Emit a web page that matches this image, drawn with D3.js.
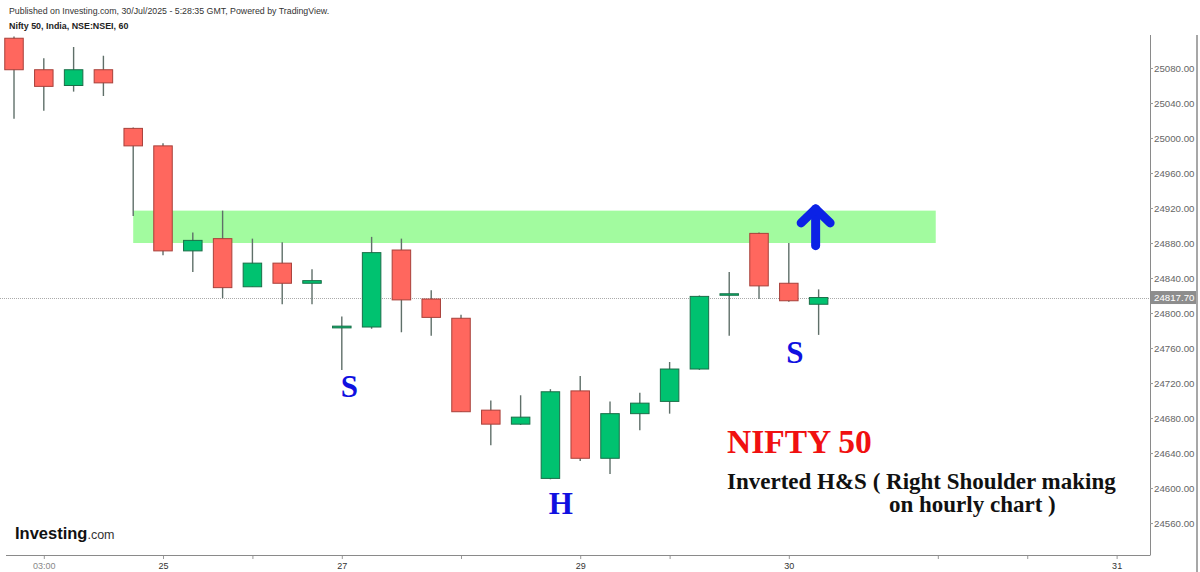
<!DOCTYPE html>
<html><head><meta charset="utf-8">
<script src="https://cdn.jsdelivr.net/npm/d3@7"></script>
<style>
html,body{margin:0;padding:0;background:#fff;}
svg{display:block;}
</style></head>
<body>
<svg id="c" width="1200" height="572"></svg>
<script>
// ---- data ----
const opens  = [25114,25078,25060,25078,25011,24991,24871,24885,24830,24857,24834,24783,24784,24872,24816,24794,24689,24673,24611,24711,24634,24685,24699,24736,24821,24891,24834,24810];
const highs  = [25116,25091,25104,25094,25012,24994,24892,24917,24885,24881,24850,24796,24887,24885,24826,24798,24700,24706,24713,24728,24699,24709,24744,24820,24847,24892,24880,24827];
const lows   = [25022,25031,25053,25048,24911,24866,24847,24817,24830,24810,24810,24735,24782,24778,24774,24687,24649,24672,24610,24631,24616,24666,24685,24735,24774,24816,24813,24775];
const closes = [25078,25059,25078,25063,24991,24871,24883,24829,24857,24834,24837,24785,24869,24815,24795,24687.2,24673,24681,24710,24634,24685,24697,24736,24819,24822,24831,24814,24817.7];
const priceTicks = [24560,24600,24640,24680,24720,24760,24800,24840,24880,24920,24960,25000,25040,25080];
const timeTickPos    = [1,5,8,11,15,19,22,26,31,34,37];
const timeTickLabels = ["03:00","25","","27","","29","","30","","","31"];
const lastPrice = 24817.70;
const zone = {from:4, to:30.93, low:24880, high:24917};
const labels = [{t:"S", i:11.25, p:24704}, {t:"S", i:26.2, p:24743}, {t:"H", i:18.35, p:24570}];
const arrow = {i:26.9, base:24877, tip:24919};

// ---- layout ----
const svg = d3.select("#c");
const W = 1200, H = 572;
const plot = {left:0, right:1150, top:35, bottom:552, axisY:555};
const x = d3.scaleLinear().domain([-0.47, 38.12]).range([plot.left, plot.right]);
const y = d3.scaleLinear().domain([24526.9, 25117.7]).range([plot.bottom, plot.top]);
const bw = 18.5;
const sans = "'Liberation Sans',Arial,sans-serif";
const serif = "'Liberation Serif','Times New Roman',serif";

const candles = opens.map((o,i)=>({i, o, h:highs[i], l:lows[i], c:closes[i]}));

// zone
svg.append("rect")
  .attr("x", x(zone.from)).attr("width", x(zone.to)-x(zone.from))
  .attr("y", y(zone.high)).attr("height", y(zone.low)-y(zone.high))
  .attr("fill", "#a2fb9f");

// price dotted line
svg.append("line")
  .attr("x1", plot.left).attr("x2", plot.right)
  .attr("y1", Math.round(y(lastPrice))+0.5).attr("y2", Math.round(y(lastPrice))+0.5)
  .attr("stroke", "#aaaaaa").attr("stroke-width",1).attr("stroke-dasharray","1,1");

// wicks
const g = svg.append("g");
g.selectAll("line.wick").data(candles).join("line")
  .attr("class","wick")
  .attr("x1", d=>x(d.i)).attr("x2", d=>x(d.i))
  .attr("y1", d=>y(d.h)).attr("y2", d=>y(d.l))
  .attr("stroke", "#5f6f69").attr("stroke-width", 1.4);

// bodies
g.selectAll("rect.body").data(candles).join("rect")
  .attr("class","body")
  .attr("x", d=>x(d.i)-bw/2).attr("width", bw)
  .attr("y", d=>Math.min(y(d.o), y(d.c)))
  .attr("height", d=>Math.max(1.5, Math.abs(y(d.o)-y(d.c))))
  .attr("fill", d=> d.c>=d.o ? "#00c270" : "#ff675e")
  .attr("stroke", d=> d.c>=d.o ? "#1a6e48" : "#a8403a")
  .attr("stroke-width", 1);

// right axis border
svg.append("line").attr("x1",plot.right+0.5).attr("x2",plot.right+0.5)
  .attr("y1",plot.top).attr("y2",plot.axisY).attr("stroke","#8a8a8a").attr("stroke-width",1);
svg.append("line").attr("x1",1197).attr("x2",1197)
  .attr("y1",plot.top).attr("y2",H).attr("stroke","#8a8a8a").attr("stroke-width",1.5);

// y axis
const yAxis = d3.axisRight(y).tickValues(priceTicks).tickFormat(d=>d3.format(".2f")(d)).tickSize(3).tickPadding(1);
const ya = svg.append("g").attr("transform",`translate(${plot.right},0)`).call(yAxis);
ya.select(".domain").remove();
ya.selectAll("line").attr("stroke","#999");
ya.selectAll("text").attr("fill","#666").attr("font-family",sans).attr("font-size","9.7px");

// last price tag
const ly = y(lastPrice);
svg.append("rect").attr("x",plot.right+1).attr("y",ly-6.5).attr("width",45).attr("height",13).attr("fill","#8d8d8d");
svg.append("text").attr("x",plot.right+4).attr("y",ly+3.5).text(d3.format(".2f")(lastPrice))
  .attr("fill","#fff").attr("font-family",sans).attr("font-size","9.7px");

// x axis
svg.append("line").attr("x1",6).attr("x2",plot.right+0.5).attr("y1",plot.axisY+0.5).attr("y2",plot.axisY+0.5)
  .attr("stroke","#8a8a8a").attr("stroke-width",1);
const xAxis = d3.axisBottom(x).tickValues(timeTickPos).tickFormat((d,k)=>timeTickLabels[k]).tickSize(3).tickPadding(4);
const xa = svg.append("g").attr("transform",`translate(0,${plot.axisY+1})`).call(xAxis);
xa.select(".domain").remove();
xa.selectAll("line").attr("stroke","#999");
xa.selectAll("text").attr("font-family",sans).attr("font-size","9px")
  .attr("fill",(d,k)=> k===0 ? "#888" : "#333");

// header texts
svg.append("text").attr("x",9).attr("y",14).text("Published on Investing.com, 30/Jul/2025 - 5:28:35 GMT, Powered by TradingView.")
  .attr("font-family",sans).attr("font-size","8.8px").attr("fill","#333");
svg.append("text").attr("x",9).attr("y",28.5).text("Nifty 50, India, NSE:NSEI, 60")
  .attr("font-family",sans).attr("font-size","8.9px").attr("font-weight","bold").attr("fill","#222");

// logo
const logo = svg.append("text").attr("x",15).attr("y",538.5).attr("font-family",sans);
logo.append("tspan").text("Investing").attr("font-size","16.5px").attr("font-weight","bold").attr("fill","#111");
logo.append("tspan").text(".com").attr("font-size","12.5px").attr("fill","#333");

// labels S / H
svg.selectAll("text.lab").data(labels).join("text").attr("class","lab")
  .attr("x", d=>x(d.i)).attr("y", d=>y(d.p)).attr("text-anchor","middle")
  .text(d=>d.t)
  .attr("font-family",serif).attr("font-weight","bold")
  .attr("font-size","31px").attr("fill","#1010e0");

// arrow
const ax = x(arrow.i), ab = y(arrow.base), at = y(arrow.tip);
svg.append("path").attr("d",`M${ax},${ab} L${ax},${at}`).attr("stroke","#0b22e6").attr("stroke-width",9).attr("stroke-linecap","round").attr("fill","none");
svg.append("path").attr("d",`M${ax-14.5},${at+14} L${ax},${at} L${ax+14.5},${at+14}`).attr("stroke","#0b22e6").attr("stroke-width",9)
  .attr("stroke-linecap","round").attr("stroke-linejoin","round").attr("fill","none");

// annotation texts
svg.append("text").attr("x",727).attr("y",453).text("NIFTY 50")
  .attr("font-family",serif).attr("font-weight","bold").attr("font-size","33.5px").attr("fill","#f01010");
svg.append("text").attr("x",727).attr("y",488.5).text("Inverted H&S ( Right Shoulder making")
  .attr("font-family",serif).attr("font-weight","bold").attr("font-size","23px").attr("fill","#111");
svg.append("text").attr("x",889).attr("y",512).text("on hourly chart )")
  .attr("font-family",serif).attr("font-weight","bold").attr("font-size","23px").attr("fill","#111");
</script>
</body></html>
